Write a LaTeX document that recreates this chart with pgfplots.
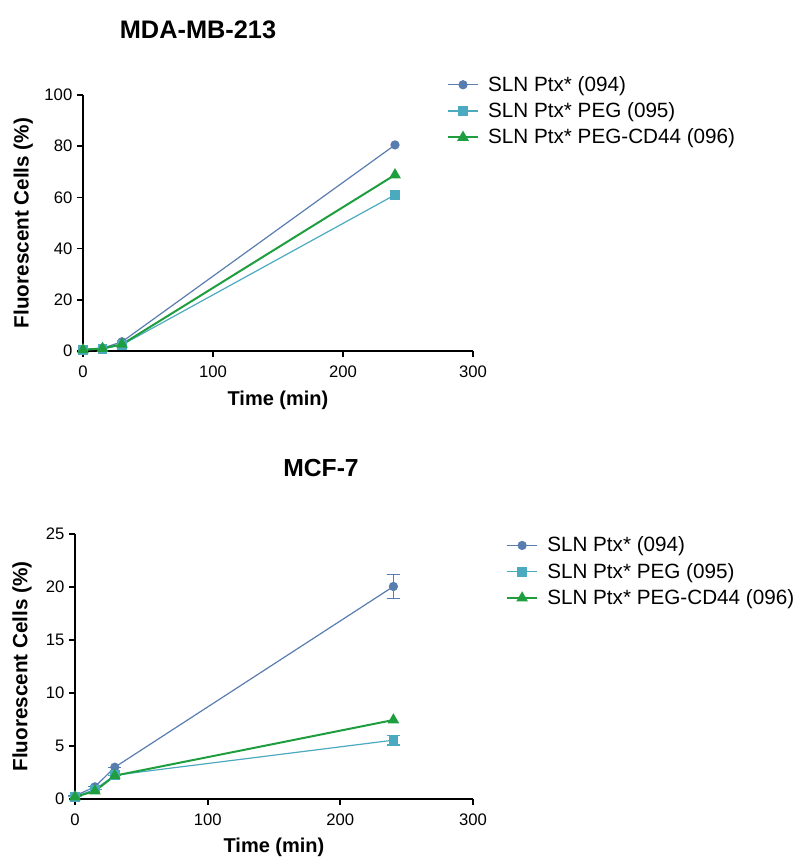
\documentclass[border=0pt]{standalone}
\usepackage{pgfplots}
\pgfplotsset{compat=1.18}
\usepackage{fontspec}
\setmainfont{Liberation Sans}
\definecolor{cA}{HTML}{5A7DB0}
\definecolor{cB}{HTML}{4BAAC0}
\definecolor{cC}{HTML}{1E9E3E}
\pgfplotsset{
  gp/.style={
    scale only axis,
    axis x line*=bottom, axis y line*=left,
    axis line style={line width=1.3pt, black},
    tick align=outside, major tick length=4.5pt,
    every tick/.style={black, line width=1.3pt},
    tick label style={font=\fontsize{12.5}{14}\selectfont},
    xticklabel style={yshift=-3pt},
    /pgf/number format/assume math mode=true,
    xlabel style={font=\bfseries\fontsize{15}{17}\selectfont},
    ylabel style={font=\bfseries\fontsize{15.5}{17}\selectfont},
    xmin=0, xmax=300, xtick={0,100,200,300},
    clip=false,
    legend cell align=left,
    legend style={draw=none, fill=none, font=\fontsize{15.5}{18}\selectfont, row sep=3pt, anchor=north west,
      /tikz/every odd column/.append style={column sep=5pt}},
    legend image code/.code={\draw[mark repeat=2,mark phase=2] plot coordinates {(0cm,0cm) (0.39cm,0cm) (0.78cm,0cm)};},
  },
  sA/.style={color=cA, line width=0.9pt, mark=*, mark size=3pt, mark options={solid, fill=cA}},
  sB/.style={color=cB, line width=0.9pt, mark=square*, mark size=3.2pt, mark options={solid, fill=cB}},
  sC/.style={color=cC, line width=1.5pt, mark=triangle*, mark size=3.6pt, mark options={solid, fill=cC}},
}
\begin{document}
\begin{tikzpicture}
\path[use as bounding box] (0,0) rectangle (604.5pt,-644.25pt);
\node[font=\bfseries\fontsize{19}{21}\selectfont] at (148.5pt,-22.5pt) {MDA-MB-213};
\node[font=\bfseries\fontsize{18.5}{20}\selectfont] at (240.75pt,-351pt) {MCF-7};
\begin{axis}[gp,
  at={(62.25pt,-263.25pt)}, anchor=south west,
  width=292.5pt, height=192pt,
  ymin=0, ymax=100, ytick={0,20,40,60,80,100},
  xlabel={Time (min)}, ylabel={Fluorescent Cells (\%)},
  xlabel style={at={(axis description cs:0.5,-0.191)}, anchor=center},
  ylabel style={at={(axis description cs:-0.153,0.5)}, anchor=center},
  legend style={at={(axis description cs:0.923,1.095)}},
]
\addplot[sA] coordinates {(0,0.6) (15,1.1) (30,3.6) (240,80.5)};
\addplot[sB] coordinates {(0,0.4) (15,0.8) (30,2.4) (240,61)};
\addplot[sC] coordinates {(0,0.5) (15,1.0) (30,2.6) (240,68.8)};
\legend{SLN Ptx* (094), SLN Ptx* PEG (095), SLN Ptx* PEG-CD44 (096)}
\end{axis}
\begin{axis}[gp,
  at={(56.25pt,-599.25pt)}, anchor=south west,
  width=298.5pt, height=198.75pt,
  ymin=0, ymax=25, ytick={0,5,10,15,20,25},
  xlabel={Time (min)}, ylabel={Fluorescent Cells (\%)},
  xlabel style={at={(axis description cs:0.5,-0.181)}, anchor=center},
  ylabel style={at={(axis description cs:-0.133,0.5)}, anchor=center},
  legend style={at={(axis description cs:1.073,1.01)}},
  error bars/error mark options={rotate=90, mark size=5pt, line width=0.9pt},
]
\addplot[sA, error bars/.cd, y dir=both, y explicit] coordinates {(0,0.3) +- (0,0) (15,1.15) +- (0,0) (30,3.0) +- (0,0) (240,20.05) +- (0,1.15)};
\addplot[sB, error bars/.cd, y dir=both, y explicit] coordinates {(0,0.2) +- (0,0) (15,0.9) +- (0,0) (30,2.25) +- (0,0) (240,5.55) +- (0,0.45)};
\addplot[sC] coordinates {(0,0.2) (15,0.75) (30,2.2) (240,7.45)};
\legend{SLN Ptx* (094), SLN Ptx* PEG (095), SLN Ptx* PEG-CD44 (096)}
\end{axis}
\end{tikzpicture}
\end{document}
